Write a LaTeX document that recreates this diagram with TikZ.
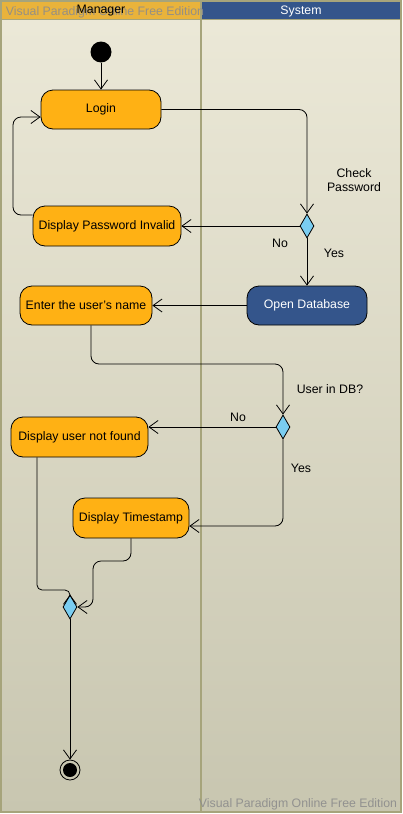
\documentclass[tikz,border=0pt]{standalone}
\usepackage{fontspec}
\setmainfont{Liberation Sans}
\usetikzlibrary{shapes.geometric,arrows.meta}
\definecolor{laneTop}{HTML}{ECE9D8}
\definecolor{laneBot}{HTML}{C8C6B0}
\definecolor{laneLine}{HTML}{A6A47B}
\definecolor{actOrange}{HTML}{FFB114}
\definecolor{actBlue}{HTML}{34558B}
\definecolor{decBlue}{HTML}{7ACDF1}
\definecolor{headOrange}{HTML}{E9B33B}
\definecolor{markGrey}{HTML}{8C8C8C}
\begin{document}
\begin{tikzpicture}[x=1pt,y=-1pt,
    every node/.style={font=\fontsize{12.3}{14}\selectfont},
    act/.style={draw,line width=0.8pt,rounded corners=12pt,fill=actOrange,minimum height=39pt,inner sep=0pt},
    dec/.style={draw,line width=0.8pt,diamond,fill=decBlue,minimum width=14pt,minimum height=24pt,inner sep=0pt,aspect=0.58},
    flow/.style={line width=0.8pt,-{Straight Barb[length=9pt,width=13pt]},rounded corners=8pt},
    watermark/.style={text=markGrey,opacity=0.9}]
    \useasboundingbox (0,0) rectangle (403,814);
    % lanes
    \shade[top color=laneTop,bottom color=laneBot] (1,1) rectangle (401,812);
    \fill[headOrange] (1,1) rectangle (201,19);
    \fill[actBlue] (201,1) rectangle (401,19);
    \draw[laneLine,line width=2pt] (1,1) rectangle (401,812);
    \draw[laneLine,line width=1.5pt] (201,1) -- (201,812);
    \draw[laneLine,line width=1.5pt] (1,19.5) -- (401,19.5);
    \node[watermark] (markTop) at (105,12) {Visual Paradigm Online Free Edition};
    \node (manager) at (101,11) {Manager};
    \node[text=white] (system) at (301,11.5) {System};
    \node[watermark] (markBot) at (298,804.5) {Visual Paradigm Online Free Edition};
    % nodes
    \node[circle,fill=black,minimum size=21pt,inner sep=0pt] (start) at (101,52) {};
    \node[act,minimum width=120pt] (login) at (101,109.5) {Login};
    \node[act,minimum width=148pt,minimum height=40pt] (dpi) at (107,226) {Display Password Invalid};
    \node[dec] (chk) at (307,226) {};
    \node[act,minimum width=120pt,fill=actBlue,text=white] (odb) at (307,305.5) {Open Database};
    \node[act,minimum width=132pt] (ename) at (86,305.5) {Enter the user's name};
    \node[dec] (indb) at (283,427) {};
    \node[act,minimum width=137pt,minimum height=40pt] (notfound) at (79.5,437) {Display user not found};
    \node[act,minimum width=116pt,minimum height=40pt] (stamp) at (131,518) {Display Timestamp};
    \node[dec] (merge) at (70,607) {};
    \node[circle,draw,thick,minimum size=20pt,inner sep=0pt] (end) at (70,770) {};
    \fill (end.center) circle (7pt);
    % labels
    \node[align=center] (lblChk) at (354,180) {Check\\Password};
    \node (lblNo1) at (280,243) {No};
    \node (lblYes1) at (334,253) {Yes};
    \node (lblInDB) at (330,389) {User in DB?};
    \node (lblNo2) at (238,417) {No};
    \node (lblYes2) at (301,468) {Yes};
    % flows
    \draw[flow] (start) -- (login);
    \draw[flow] (login.east) -| (chk.north);
    \draw[flow] (chk.west) -- (dpi.east);
    \draw[flow] ([yshift=11pt]dpi.west) -- (13,215) -- (13,117) -- ([yshift=-7.5pt]login.west);
    \draw[flow] (chk.south) -- (odb.north);
    \draw[flow] (odb.west) -- (ename.east);
    \draw[flow] ([xshift=5pt]ename.south) -- (91,364) -- (283,364) -- (indb.north);
    \draw[flow] (indb.west) -- (notfound.east |- indb.west);
    \draw[flow] (indb.south) |- ([yshift=-8pt]stamp.east);
    \draw[flow,rounded corners=5pt] ([xshift=-42.5pt]notfound.south) -- (37,590) -- (70,590) -- (merge.north);
    \draw[flow] (stamp.south) -- (131,561) -- (93,561) -- (93,607) -- (merge.east);
    \draw[flow] (merge.south) -- (end.north);
\end{tikzpicture}
\end{document}
